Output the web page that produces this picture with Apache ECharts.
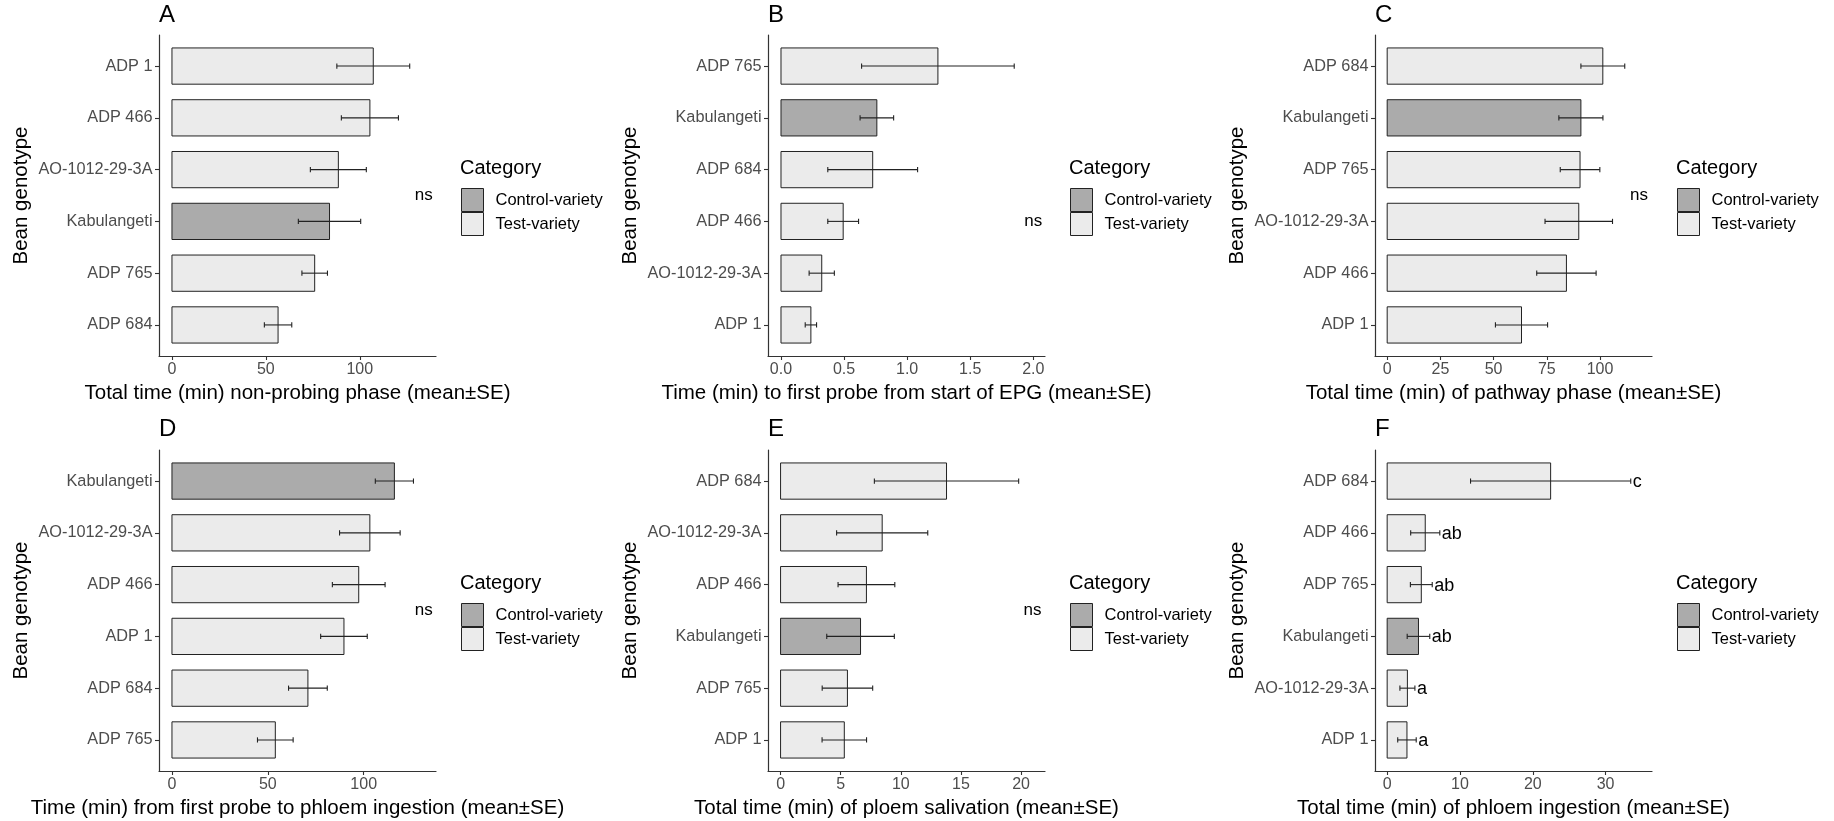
<!DOCTYPE html>
<html>
<head>
<meta charset="utf-8">
<script src="https://cdn.jsdelivr.net/npm/echarts@6.0.0/dist/echarts.min.js"></script>
<style>
  html, body { margin: 0; padding: 0; background: #fff; }
  #wrap { position: relative; width: 1834px; height: 821px; }
  .panel { position: absolute; width: 611px; height: 411px; }
</style>
</head>
<body>
<div id="wrap">
  <div class="panel" id="pA" style="left:0;top:0"></div>
  <div class="panel" id="pB" style="left:611px;top:0"></div>
  <div class="panel" id="pC" style="left:1222px;top:0;width:612px"></div>
  <div class="panel" id="pD" style="left:0;top:410px"></div>
  <div class="panel" id="pE" style="left:611px;top:410px"></div>
  <div class="panel" id="pF" style="left:1222px;top:410px;width:612px"></div>
</div>
<script>
// values (mean and SE, minutes), categories listed top -> bottom
const catsA = ['ADP 1', 'ADP 466', 'AO-1012-29-3A', 'Kabulangeti', 'ADP 765', 'ADP 684'];
const meanA = [107.2, 105.4, 88.6, 83.9, 76.0, 56.5];
const seA = [19.4, 15.2, 14.9, 16.6, 6.8, 7.3];
const ticksA = [0, 50, 100];

const catsB = ['ADP 765', 'Kabulangeti', 'ADP 684', 'ADP 466', 'AO-1012-29-3A', 'ADP 1'];
const meanB = [1.244, 0.760, 0.727, 0.493, 0.323, 0.237];
const seB = [0.605, 0.133, 0.356, 0.122, 0.100, 0.045];
const ticksB = [0, 0.5, 1, 1.5, 2];

const catsC = ['ADP 684', 'Kabulangeti', 'ADP 765', 'AO-1012-29-3A', 'ADP 466', 'ADP 1'];
const meanC = [101.3, 91.0, 90.6, 90.0, 84.2, 63.1];
const seC = [10.3, 10.35, 9.3, 15.85, 13.95, 12.25];
const ticksC = [0, 25, 50, 75, 100];

const catsD = ['Kabulangeti', 'AO-1012-29-3A', 'ADP 466', 'ADP 1', 'ADP 684', 'ADP 765'];
const meanD = [116.0, 103.2, 97.4, 89.7, 70.9, 53.9];
const seD = [9.95, 15.8, 13.75, 12.15, 10.1, 9.3];
const ticksD = [0, 50, 100];

const catsE = ['ADP 684', 'AO-1012-29-3A', 'ADP 466', 'Kabulangeti', 'ADP 765', 'ADP 1'];
const meanE = [13.8, 8.45, 7.14, 6.65, 5.56, 5.3];
const seE = [6.0, 3.79, 2.36, 2.81, 2.1, 1.85];
const ticksE = [0, 5, 10, 15, 20];

const catsF = ['ADP 684', 'ADP 466', 'ADP 765', 'Kabulangeti', 'AO-1012-29-3A', 'ADP 1'];
const meanF = [22.45, 5.23, 4.69, 4.3, 2.78, 2.72];
const seF = [11.0, 2.0, 1.5, 1.55, 1.03, 1.27];
const lettersF = ['c', 'ab', 'ab', 'ab', 'a', 'a'];
const ticksF = [0, 10, 20, 30];

const FONT = "'Liberation Sans', Arial, sans-serif";
const CONTROL = 'Kabulangeti';
const INK = '#222';

function drawPanel(id, o) {
  const chart = echarts.init(document.getElementById(id), null, { renderer: 'canvas' });
  const ctrl = [], test = [], errs = [];
  o.cats.forEach((c, i) => {
    (c === CONTROL ? ctrl : test).push([o.mean[i], i]);
    errs.push([o.mean[i] - o.se[i], o.mean[i] + o.se[i], i]);
  });

  const barItem = fill => (params, api) => {
    const i = api.value(1);
    const a = api.coord([0, i]), b = api.coord([api.value(0), i]);
    const h = Math.abs(api.size([0, 1])[1]) * 0.7;
    return {
      type: 'rect',
      shape: { x: a[0], y: a[1] - h / 2, width: b[0] - a[0], height: h },
      style: { fill: fill, stroke: INK, lineWidth: 1 }
    };
  };

  const errItem = (params, api) => {
    const i = api.value(2);
    const lo = api.coord([api.value(0), i]), hi = api.coord([api.value(1), i]);
    const c = Math.abs(api.size([0, 1])[1]) * 0.05;
    const st = { stroke: INK, lineWidth: 1.1 };
    const kids = [
      { type: 'line', shape: { x1: lo[0], y1: lo[1], x2: hi[0], y2: hi[1] }, style: st },
      { type: 'line', shape: { x1: lo[0], y1: lo[1] - c, x2: lo[0], y2: lo[1] + c }, style: st },
      { type: 'line', shape: { x1: hi[0], y1: hi[1] - c, x2: hi[0], y2: hi[1] + c }, style: st }
    ];
    if (o.letters) {
      kids.push({
        type: 'text',
        style: { x: hi[0] + 2, y: hi[1] + 1, text: o.letters[params.dataIndex], fill: '#000',
          font: '18px ' + FONT, align: 'left', verticalAlign: 'middle' }
      });
    }
    return { type: 'group', children: kids };
  };

  const series = [
    { name: 'Control-variety', type: 'custom', renderItem: barItem('#ABABAB'), data: ctrl,
      itemStyle: { color: '#ABABAB' }, encode: { x: 0, y: 1 }, clip: false, z: 2 },
    { name: 'Test-variety', type: 'custom', renderItem: barItem('#EBEBEB'), data: test,
      itemStyle: { color: '#EBEBEB' }, encode: { x: 0, y: 1 }, clip: false, z: 2 },
    { name: 'err', type: 'custom', renderItem: errItem, data: errs,
      encode: { x: [0, 1], y: 2 }, clip: false, z: 3 }
  ];
  if (o.ns) {
    series.push({
      name: 'ns', type: 'custom', data: [o.ns], encode: { x: 0, y: 1 }, clip: false, z: 3,
      renderItem: (params, api) => {
        const p = api.coord([api.value(0), api.value(1)]);
        return { type: 'text', style: { x: p[0], y: p[1], text: 'ns', fill: '#000',
          font: '17px ' + FONT, align: 'center', verticalAlign: 'middle' } };
      }
    });
  }

  chart.setOption({
    animation: false,
    backgroundColor: '#fff',
    textStyle: { fontFamily: FONT },
    title: [
      { text: o.letter, left: o.left, top: o.letterTop, padding: 0,
        textStyle: { fontFamily: FONT, fontSize: 24, fontWeight: 'normal', color: '#000' } },
      { text: 'Category', left: o.left + 301, top: o.catTop, padding: 0,
        textStyle: { fontFamily: FONT, fontSize: 20, fontWeight: 'normal', color: '#000' } }
    ],
    legend: {
      orient: 'vertical', left: o.left + 302, top: o.catTop + 30, padding: 0,
      itemGap: 0, itemWidth: 22, itemHeight: 23, icon: 'rect', selectedMode: false,
      data: [
        { name: 'Control-variety', itemStyle: { color: '#ABABAB', borderColor: INK, borderWidth: 1 } },
        { name: 'Test-variety', itemStyle: { color: '#EBEBEB', borderColor: INK, borderWidth: 1 } }
      ],
      textStyle: { fontFamily: FONT, fontSize: 16.5, color: '#000', padding: [0, 0, 0, 7] }
    },
    grid: { left: o.left, top: o.top, width: 277, height: 321, outerBoundsMode: 'none', containLabel: false },
    xAxis: {
      type: 'value', min: o.range[0], max: o.range[1],
      name: o.xName, nameLocation: 'middle', nameGap: 27,
      nameTextStyle: { fontFamily: FONT, fontSize: 20.5, color: '#000' },
      axisLine: { show: true, onZero: false, lineStyle: { color: '#333', width: 1.2 } },
      axisTick: { show: true, length: 4, customValues: o.ticks, lineStyle: { color: '#333', width: 1.1 } },
      axisLabel: { customValues: o.ticks, margin: 6, fontSize: 16, color: '#4D4D4D', fontFamily: FONT,
        formatter: v => v.toFixed(o.dec) },
      splitLine: { show: false }
    },
    yAxis: {
      type: 'value', min: -0.6, max: o.cats.length - 0.4, inverse: true,
      name: 'Bean genotype', nameLocation: 'middle', nameGap: 127, nameRotate: 90,
      nameTextStyle: { fontFamily: FONT, fontSize: 20.5, color: '#000' },
      axisLine: { show: true, onZero: false, lineStyle: { color: '#333', width: 1.2 } },
      axisTick: { show: true, length: 4, customValues: o.cats.map((c, i) => i), lineStyle: { color: '#333', width: 1.1 } },
      axisLabel: { customValues: o.cats.map((c, i) => i), margin: 6.5, fontSize: 16.3, color: '#4D4D4D',
        fontFamily: FONT, formatter: v => o.cats[Math.round(v)] },
      splitLine: { show: false }
    },
    series: series
  });
}

drawPanel('pA', { letter: 'A', cats: catsA, mean: meanA, se: seA, ticks: ticksA, dec: 0,
  range: [-6.9, 140.6], ns: [134.1, 2.5], left: 159, top: 35, letterTop: 3, catTop: 158,
  xName: 'Total time (min) non-probing phase (mean±SE)' });
drawPanel('pB', { letter: 'B', cats: catsB, mean: meanB, se: seB, ticks: ticksB, dec: 1,
  range: [-0.103, 2.093], ns: [2.0, 3], left: 157, top: 35, letterTop: 3, catTop: 158,
  xName: 'Time (min) to first probe from start of EPG (mean±SE)' });
drawPanel('pC', { letter: 'C', cats: catsC, mean: meanC, se: seC, ticks: ticksC, dec: 0,
  range: [-5.72, 124.4], ns: [118.3, 2.5], left: 153, top: 35, letterTop: 3, catTop: 158,
  xName: 'Total time (min) of pathway phase (mean±SE)' });
drawPanel('pD', { letter: 'D', cats: catsD, mean: meanD, se: seD, ticks: ticksD, dec: 0,
  range: [-6.76, 137.7], ns: [131.3, 2.5], left: 159, top: 40, letterTop: 7, catTop: 163,
  xName: 'Time (min) from first probe to phloem ingestion (mean±SE)' });
drawPanel('pE', { letter: 'E', cats: catsE, mean: meanE, se: seE, ticks: ticksE, dec: 0,
  range: [-1.046, 21.99], ns: [20.95, 2.5], left: 157, top: 40, letterTop: 7, catTop: 163,
  xName: 'Total time (min) of ploem salivation (mean±SE)' });
drawPanel('pF', { letter: 'F', cats: catsF, mean: meanF, se: seF, ticks: ticksF, dec: 0,
  range: [-1.67, 36.37], letters: lettersF, left: 153, top: 40, letterTop: 7, catTop: 163,
  xName: 'Total time (min) of phloem ingestion (mean±SE)' });
</script>
</body>
</html>
